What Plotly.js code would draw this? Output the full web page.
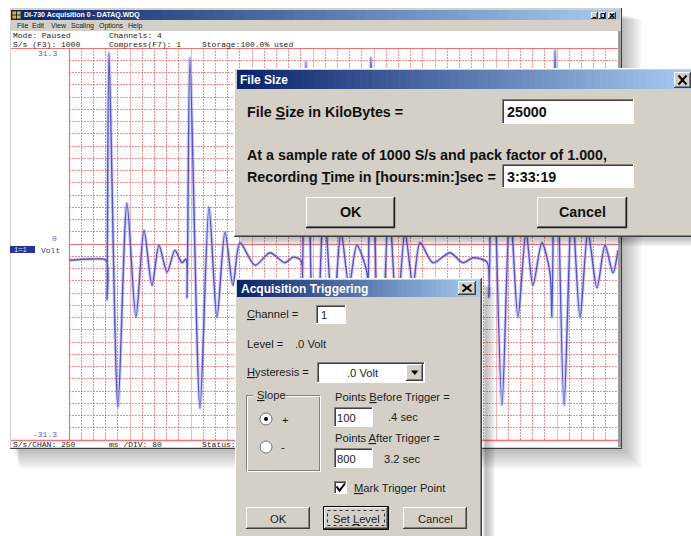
<!DOCTYPE html>
<html>
<head>
<meta charset="utf-8">
<script src="https://cdn.plot.ly/plotly-3.0.1.min.js"></script>
<style>
  html, body { margin: 0; padding: 0; background: #ffffff; overflow: hidden; }
  #scope { width: 691px; height: 536px; }
</style>
</head>
<body>
<div id="scope"></div>
<script>
// Channel 1 record: turning points of the waveform (ms from start of record, volts)
const timeMs = [
  0, 150, 243, 249, 262, 321, 380, 439, 492, 544, 590, 643, 695, 741, 767,
  774, 793, 859, 918, 970, 1023, 1075, 1121, 1220, 1318, 1416, 1469, 1521,
  1528, 1554, 1613, 1672, 1731, 1784, 1836, 1888, 1954,
  1961, 1980, 2039, 2098, 2151, 2203, 2256, 2302, 2387, 2498, 2583, 2649, 2741,
  2754, 2774, 2839, 2892, 2944, 2997, 3042, 3101, 3154,
  3167, 3187, 3246, 3298, 3351, 3403, 3462, 3515, 3567, 3600
];
const volts = [
  -2.6, -2.4, -2.6, -8.9, 30.5, -26.0, 6.5, -11.7, 2.2, -6.6, -0.2, -4.5, -1.0, -3.0, -2.4,
  -8.6, 29.7, -26.2, 5.9, -11.7, 1.9, -6.6, 0.2, -3.4, -1.4, -3.0, -2.1, -2.6,
  -8.6, 29.1, -25.8, 6.2, -11.7, 1.9, -6.6, -0.2, -4.6,
  -8.6, 29.8, -25.8, 6.2, -11.7, 1.9, -6.6, 0.2, -3.0, -1.4, -3.0, -2.2, -2.9,
  -8.5, 24.0, -25.7, 6.2, -11.7, 1.9, -6.6, 0.2, -4.6,
  -11.7, 31.0, -25.7, 6.2, -11.7, 1.9, -7.0, -0.2, -4.6, -1.0
];

// Display scaling
const fullScaleVolts = 31.3;
const recordMs = 3600;
const msPerDiv = 80;
const verticalDivs = 32;

// ---------- drawing helpers (pixel positions -> paper coordinates) ----------
const W = 691, H = 536;
const px = x => x / W;
const py = y => 1 - y / H;
const shapes = [];
const notes = [];
const FACE = '#d4d0c8';
const SANS = 'Liberation Sans, Arial, sans-serif';
const MONO = 'Liberation Mono, DejaVu Sans Mono, monospace';

function rect(x0, y0, x1, y1, fill, layer, line) {
  shapes.push({ type: 'rect', xref: 'paper', yref: 'paper',
    x0: px(x0), x1: px(x1), y0: py(y1), y1: py(y0),
    fillcolor: fill, line: line || { width: 0 }, layer: layer || 'above' });
}
function seg(x0, y0, x1, y1, color, width, layer, dash) {
  shapes.push({ type: 'line', xref: 'paper', yref: 'paper',
    x0: px(x0), y0: py(y0), x1: px(x1), y1: py(y1),
    line: { color: color, width: width || 1, dash: dash || 'solid' }, layer: layer || 'above' });
}
function poly(pts, fill, color, width, layer, close) {
  const d = pts.map((p, i) => (i ? 'L' : 'M') + px(p[0]) + ',' + py(p[1])).join(' ') + (close ? ' Z' : '');
  shapes.push({ type: 'path', xref: 'paper', yref: 'paper', path: d,
    fillcolor: fill || 'rgba(0,0,0,0)',
    line: { color: color || 'rgba(0,0,0,0)', width: width || 0 }, layer: layer || 'above' });
}
function ring(x0, y0, x1, y1, fill, color, layer) {
  shapes.push({ type: 'circle', xref: 'paper', yref: 'paper',
    x0: px(x0), x1: px(x1), y0: py(y1), y1: py(y0),
    fillcolor: fill, line: { color: color || 'rgba(0,0,0,0)', width: color ? 1 : 0 }, layer: layer || 'above' });
}
function mix(a, b, t) {
  return 'rgb(' + a.map((v, i) => Math.round(v + (b[i] - v) * t)).join(',') + ')';
}
function gradient(x0, y0, x1, y1, c0, c1, n, layer) {
  for (let i = 0; i < n; i++) {
    const a = x0 + (x1 - x0) * i / n, b = x0 + (x1 - x0) * (i + 1) / n;
    rect(a, y0, Math.min(b + 0.6, x1), y1, mix(c0, c1, i / (n - 1)), layer);
  }
}
function raised(x0, y0, x1, y1, layer, strong) {
  rect(x0, y0, x1, y1, FACE, layer);
  seg(x0 + 0.5, y0 + 0.5, x1 - 1, y0 + 0.5, '#ffffff', 1, layer);
  seg(x0 + 0.5, y0 + 0.5, x0 + 0.5, y1 - 1, '#ffffff', 1, layer);
  seg(x0 + 1, y1 - 1.5, x1 - 1, y1 - 1.5, '#808080', 1, layer);
  seg(x1 - 1.5, y0 + 1, x1 - 1.5, y1 - 1, '#808080', 1, layer);
  seg(x0, y1 - 0.5, x1, y1 - 0.5, strong ? '#202020' : '#404040', strong ? 1.4 : 1, layer);
  seg(x1 - 0.5, y0, x1 - 0.5, y1, strong ? '#202020' : '#404040', strong ? 1.4 : 1, layer);
}
function sunken(x0, y0, x1, y1, fill, layer) {
  rect(x0, y0, x1, y1, fill || '#ffffff', layer);
  seg(x0, y0 + 0.5, x1, y0 + 0.5, '#808080', 1, layer);
  seg(x0 + 0.5, y0, x0 + 0.5, y1, '#808080', 1, layer);
  seg(x0 + 1, y0 + 1.5, x1 - 1, y0 + 1.5, '#404040', 1, layer);
  seg(x0 + 1.5, y0 + 1, x0 + 1.5, y1 - 1, '#404040', 1, layer);
  seg(x0, y1 - 0.5, x1, y1 - 0.5, '#ffffff', 1, layer);
  seg(x1 - 0.5, y0, x1 - 0.5, y1, '#ffffff', 1, layer);
}
function text(x, y, s, o) {
  o = o || {};
  notes.push({ xref: 'paper', yref: 'paper', x: px(x), y: py(y), text: s, showarrow: false,
    xanchor: o.anchor || 'left', yanchor: 'middle', borderpad: 0,
    font: { family: o.family || SANS, size: o.size || 12, color: o.color || '#000000',
            weight: o.weight || 'normal' } });
}
const u = c => '<span style="text-decoration:underline">' + c + '</span>';
function shadow(x0, y0, x1, y1, steps, spread, alpha, layer) {
  for (let i = 1; i <= steps; i++) {
    rect(x0 + i * 0.6, y0 + i * 0.6, x1 + i * spread, y1 + i * spread, 'rgba(0,0,0,' + alpha + ')', layer);
  }
}
const NAVY = [10, 36, 106], SKY = [166, 202, 240];

// ---------- acquisition window ----------
shadow(14, 14, 622, 449, 9, 2.2, 0.03, 'below');
rect(9, 8, 622, 449, FACE, 'below');
seg(9, 448.5, 622, 448.5, '#404040', 1, 'below');
seg(621.5, 8, 621.5, 449, '#404040', 1, 'below');
seg(9.5, 8, 9.5, 449, '#ffffff', 1, 'below');
gradient(11, 10, 620, 20, NAVY, SKY, 60, 'below');
rect(12, 11, 21, 19, '#d8b848', 'below', { color: '#303030', width: 1 });
seg(12, 15, 21, 15, '#303030', 1, 'below');
seg(16.5, 11, 16.5, 19, '#303030', 1, 'below');
raised(591, 12, 598, 19, 'below');
raised(599, 12, 606, 19, 'below');
raised(608, 12, 616, 19, 'below');
seg(593, 17.5, 596, 17.5, '#000', 1, 'below');
rect(601, 13.5, 604.5, 17.5, 'rgba(0,0,0,0)', 'below', { color: '#000', width: 1 });
seg(610, 13.5, 614, 17.5, '#000', 1.2, 'below');
seg(610, 17.5, 614, 13.5, '#000', 1.2, 'below');
rect(11, 31, 618, 447, '#ffffff', 'below');
rect(618, 31, 621, 447, '#9c9c9c', 'below');
rect(10, 246, 35, 253, '#26348f', 'below');
seg(11, 48.5, 618, 48.5, '#f07676', 1.2, 'below');
seg(11, 440.5, 618, 440.5, '#f07676', 1.5, 'below');
seg(69.5, 48, 69.5, 440, '#f07676', 1.2, 'below');

text(23, 15.5, 'DI-730 Acquisition 0 - DATAQ.WDQ', { size: 7, weight: 'bold', color: '#ffffff' });
[['File', 16], ['Edit', 31], ['View', 50], ['Scaling', 70], ['Options', 98], ['Help', 127]]
  .forEach(m => text(m[1], 26, m[0], { size: 7, color: '#202020' }));
const mono = { family: MONO, size: 8, color: '#1e1e1e' };
text(12, 36, 'Mode: Paused', mono);
text(108, 36, 'Channels: 4', mono);
text(12, 44, 'S/s (F3): 1000', mono);
text(108, 44, 'Compress(F7): 1', mono);
text(201, 44, 'Storage:100.0% used', mono);
text(12, 444.5, 'S/s/CHAN: 250', mono);
text(108, 444.5, 'ms /DIV: 80', mono);
text(201, 444.5, 'Status:', mono);
text(13, 249.5, '1=1', { family: MONO, size: 7, color: '#dfe4ff' });
text(40, 250, 'Volt', { family: MONO, size: 8, color: '#3a3f70' });

// scale labels tied to the vertical axis
const scaleFont = { family: MONO, size: 8, color: '#5a5ad0' };
notes.push({ xref: 'paper', yref: 'y', x: px(58), y: fullScaleVolts, xanchor: 'right', yanchor: 'top',
  text: fullScaleVolts.toFixed(1), showarrow: false, font: scaleFont, borderpad: 0 });
notes.push({ xref: 'paper', yref: 'y', x: px(58), y: 0, xanchor: 'right', yanchor: 'bottom',
  text: '0', showarrow: false, font: scaleFont, borderpad: 0 });
notes.push({ xref: 'paper', yref: 'y', x: px(58), y: -fullScaleVolts, xanchor: 'right', yanchor: 'bottom',
  text: (-fullScaleVolts).toFixed(1), showarrow: false, font: scaleFont, borderpad: 0 });

// ---------- File Size dialog ----------
shadow(238, 232, 691, 238, 5, 1.6, 0.05, 'above');
rect(234, 68, 691, 237, FACE, 'above');
seg(234.5, 68, 234.5, 237, '#ffffff', 1, 'above');
seg(234, 68.5, 691, 68.5, '#ffffff', 1, 'above');
seg(234, 236.5, 691, 236.5, '#404040', 1.2, 'above');
seg(235, 235.5, 691, 235.5, '#808080', 1, 'above');
gradient(237, 70, 691, 89, NAVY, SKY, 70, 'above');
raised(674, 72, 691, 88, 'above');
seg(678.5, 75.5, 686.5, 84.5, '#000', 2, 'above');
seg(678.5, 84.5, 686.5, 75.5, '#000', 2, 'above');
sunken(502, 99, 634, 124, '#ffffff', 'above');
sunken(502, 164, 634, 188, '#ffffff', 'above');
raised(306, 197, 395, 228, 'above', true);
raised(537, 197, 627, 228, 'above', true);

const fsFont = { size: 14.3, weight: 'bold', color: '#101010' };
text(239, 80, 'File Size', { size: 12, weight: 'bold', color: '#ffffff' });
text(246, 112, 'File ' + u('S') + 'ize in KiloBytes =', fsFont);
text(506, 112, '25000', fsFont);
text(246, 155, 'At a sample rate of 1000 S/s and pack factor of 1.000,', fsFont);
text(246, 177, 'Recording ' + u('T') + 'ime in [hours:min:]sec =', fsFont);
text(506, 176.5, '3:33:19', fsFont);
text(350.5, 212.5, 'OK', Object.assign({ anchor: 'center' }, fsFont));
text(582, 212.5, 'Cancel', Object.assign({ anchor: 'center' }, fsFont));

// ---------- Acquisition Triggering dialog ----------
shadow(482, 284, 484, 536, 6, 1.8, 0.05, 'above');
rect(235, 278, 482, 536, FACE, 'above');
seg(235.5, 278, 235.5, 536, '#ffffff', 1, 'above');
seg(235, 278.5, 482, 278.5, '#ffffff', 1, 'above');
seg(481.5, 278, 481.5, 536, '#404040', 1, 'above');
seg(480.5, 279, 480.5, 536, '#808080', 1, 'above');
gradient(237, 280, 480, 297, NAVY, SKY, 50, 'above');
raised(458, 281, 476, 295, 'above');
seg(462.5, 284.5, 471.5, 291.5, '#000', 2, 'above');
seg(462.5, 291.5, 471.5, 284.5, '#000', 2, 'above');

sunken(316, 305, 346, 324, '#ffffff', 'above');
sunken(317, 362, 425, 383, '#ffffff', 'above');
raised(406, 364, 423, 381, 'above');
poly([[411, 370.5], [418.5, 370.5], [414.75, 375]], '#000000', null, 0, 'above', true);

// Slope group frame (etched)
[[0, '#808080'], [1, '#ffffff']].forEach(e => {
  const o = e[0];
  seg(246 + o, 395.5 + o, 320 + o, 395.5 + o, e[1], 1, 'above');
  seg(246.5 + o, 395 + o, 246.5 + o, 471 + o, e[1], 1, 'above');
  seg(246 + o, 470.5 + o, 320 + o, 470.5 + o, e[1], 1, 'above');
  seg(319.5 + o, 395 + o, 319.5 + o, 471 + o, e[1], 1, 'above');
});
rect(253, 389, 286, 402, FACE, 'above');
ring(260, 413, 272, 425, '#ffffff', '#707070', 'above');
ring(264, 417, 268, 421, '#000000', null, 'above');
ring(260, 441, 272, 453, '#ffffff', '#707070', 'above');

sunken(334, 407, 373, 427, '#ffffff', 'above');
sunken(334, 448, 373, 468, '#ffffff', 'above');
sunken(334, 481, 347, 494, '#ffffff', 'above');
poly([[336.5, 486.5], [339.5, 490.5], [345, 483.5]], null, '#000000', 2, 'above');

raised(246, 507, 310, 529, 'above');
rect(323.5, 506.5, 388.5, 529.5, 'rgba(0,0,0,0)', 'above', { color: '#000000', width: 1 });
raised(324, 507, 388, 529, 'above');
rect(327.5, 510.5, 384.5, 525.5, 'rgba(0,0,0,0)', 'above', { color: '#303030', width: 1, dash: 'dot' });
raised(403, 507, 467, 529, 'above');

const tf = { size: 11.2, color: '#1c1c1c' };
text(240, 288.5, 'Acquisition Triggering', { size: 12, weight: 'bold', color: '#ffffff' });
text(246, 314, u('C') + 'hannel =', tf);
text(320, 314.5, '1', tf);
text(246, 344, 'Level =', tf);
text(294, 344, '.0 Volt', tf);
text(246, 372, u('H') + 'ysteresis =', tf);
text(363, 373, '.0 Volt', Object.assign({ anchor: 'center' }, tf));
text(256, 395, u('S') + 'lope', tf);
text(281, 420, '+', tf);
text(280, 447, '-', tf);
text(334, 397, 'Points ' + u('B') + 'efore Trigger =', tf);
text(336, 417.5, '100', tf);
text(387, 417, '.4 sec', tf);
text(334, 438, 'Points ' + u('A') + 'fter Trigger =', tf);
text(336, 458.5, '800', tf);
text(383, 459, '3.2 sec', tf);
text(353, 488, u('M') + 'ark Trigger Point', tf);
text(278, 518.5, 'OK', Object.assign({ anchor: 'center' }, tf));
text(356, 518.5, 'Set ' + u('L') + 'evel', Object.assign({ anchor: 'center' }, tf));
text(435, 518.5, 'Cancel', Object.assign({ anchor: 'center' }, tf));

// ---------- waveform traces ----------
const traces = [
  { x: timeMs, y: volts, type: 'scatter', mode: 'lines', hoverinfo: 'skip',
    line: { color: 'rgba(130,130,225,0.35)', width: 3.5, shape: 'spline', smoothing: 0.8 } },
  { x: timeMs, y: volts, type: 'scatter', mode: 'lines', hoverinfo: 'skip',
    line: { color: '#5356c2', width: 1.4, shape: 'spline', smoothing: 0.8 } }
];

const gridPink = 'rgba(236,92,92,0.7)';
const layout = {
  width: W, height: H, autosize: false,
  margin: { l: 0, r: 0, t: 0, b: 0, pad: 0 },
  paper_bgcolor: '#ffffff', plot_bgcolor: 'rgba(0,0,0,0)',
  showlegend: false,
  xaxis: {
    domain: [px(69), px(618)], range: [0, recordMs], fixedrange: true,
    showticklabels: false, ticks: '', zeroline: false, showline: false,
    tick0: 0, dtick: msPerDiv * 5, showgrid: true, gridcolor: 'rgba(238,110,110,0.5)', gridwidth: 1,
    minor: { tick0: 0, dtick: msPerDiv, showgrid: true, gridcolor: gridPink, gridwidth: 1, griddash: '1.5px,1.5px' }
  },
  yaxis: {
    domain: [py(440), py(48)], range: [-fullScaleVolts, fullScaleVolts], fixedrange: true,
    showticklabels: false, ticks: '', showline: false, showgrid: false,
    zeroline: true, zerolinecolor: '#f07676', zerolinewidth: 1,
    tick0: 0, dtick: fullScaleVolts,
    minor: { tick0: 0, dtick: 2 * fullScaleVolts / verticalDivs, showgrid: true,
             gridcolor: gridPink, gridwidth: 1, griddash: '1.5px,1.5px' }
  },
  shapes: shapes,
  annotations: notes
};

Plotly.newPlot('scope', traces, layout, { staticPlot: true, displayModeBar: false });
</script>
</body>
</html>
